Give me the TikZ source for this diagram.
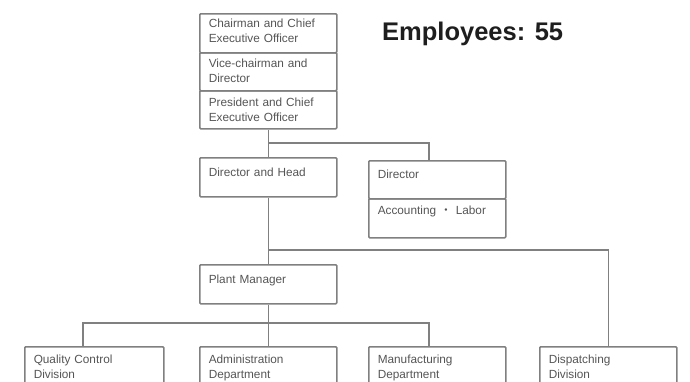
\documentclass[tikz,border=0pt]{standalone}
\usepackage{fontspec}
\newfontfamily\chartfont{Liberation Sans}
\newfontfamily\cjk{Noto Sans CJK JP}
\usepackage{tikz}
\usetikzlibrary{positioning,calc}
\definecolor{linegray}{RGB}{128,128,128}
\definecolor{textgray}{RGB}{85,85,85}
\definecolor{headblack}{RGB}{30,30,30}

\tikzset{
  unit/.style={draw=linegray, line width=1.5pt, rounded corners=1pt,
    anchor=north west, align=left, text width=119pt, inner xsep=9pt,
    inner ysep=5pt, text=textgray,
    font=\chartfont\fontsize{11.8}{15}\selectfont},
  link/.style={draw=linegray, line width=1.5pt}
}

\begin{document}
\begin{tikzpicture}[x=1pt, y=-1pt]
  \useasboundingbox (0,0) rectangle (690,381);
  % Head office
  \node[unit, text height=9pt, text depth=20pt] (chair) at (199,13)
    {Chairman and Chief\\Executive Officer};
  \node[unit, text height=10pt, text depth=18pt] (vice) at (199,52)
    {Vice-chairman and\\Director};
  \node[unit, text height=11pt, text depth=17pt] (pres) at (199,90)
    {President and Chief\\Executive Officer};
  \node[font=\chartfont\bfseries\fontsize{25.5}{30}\selectfont, text=headblack,
    anchor=west, inner sep=0pt] (staff) at (382,34) {Employees: 55};
  % Second level
  \node[unit, text height=14pt, text depth=15pt] (dh) at (199,157)
    {Director and Head};
  \node[unit, text height=13pt, text depth=15pt] (dir) at (368,160)
    {Director};
  \node[unit, text height=11pt, text depth=18pt] (acc) at (368,198)
    {Accounting {\cjk ・} Labor};
  % Plant
  \node[unit, text height=14pt, text depth=15pt] (pm) at (199,264)
    {Plant Manager};
  % Divisions
  \node[unit, text width=121pt, text height=12pt, text depth=28pt] (qc) at (24,346)
    {Quality Control\\Division};
  \node[unit, text height=12pt, text depth=28pt] (adm) at (199,346)
    {Administration\\Department};
  \node[unit, text height=12pt, text depth=28pt] (mfg) at (368,346)
    {Manufacturing\\Department};
  \node[unit, text height=12pt, text depth=28pt] (dsp) at (539,346)
    {Dispatching\\Division};
  % Connectors
  \coordinate (bus1) at (0,143);
  \coordinate (bus2) at (0,250);
  \coordinate (bus3) at (0,323);
  \draw[link] (pres.south) -- (dh.north);
  \draw[link] (pres.south |- bus1) -| ([xshift=-8.5pt]dir.north);
  \draw[link] (dh.south) -- (pm.north);
  \draw[link] (dh.south |- bus2) -| (dsp.north);
  \draw[link] (pm.south) -- (adm.north);
  \draw[link] ([xshift=-11.5pt]qc.north) |- ([xshift=-8.5pt]mfg.north |- bus3)
    -- ([xshift=-8.5pt]mfg.north);
\end{tikzpicture}
\end{document}
